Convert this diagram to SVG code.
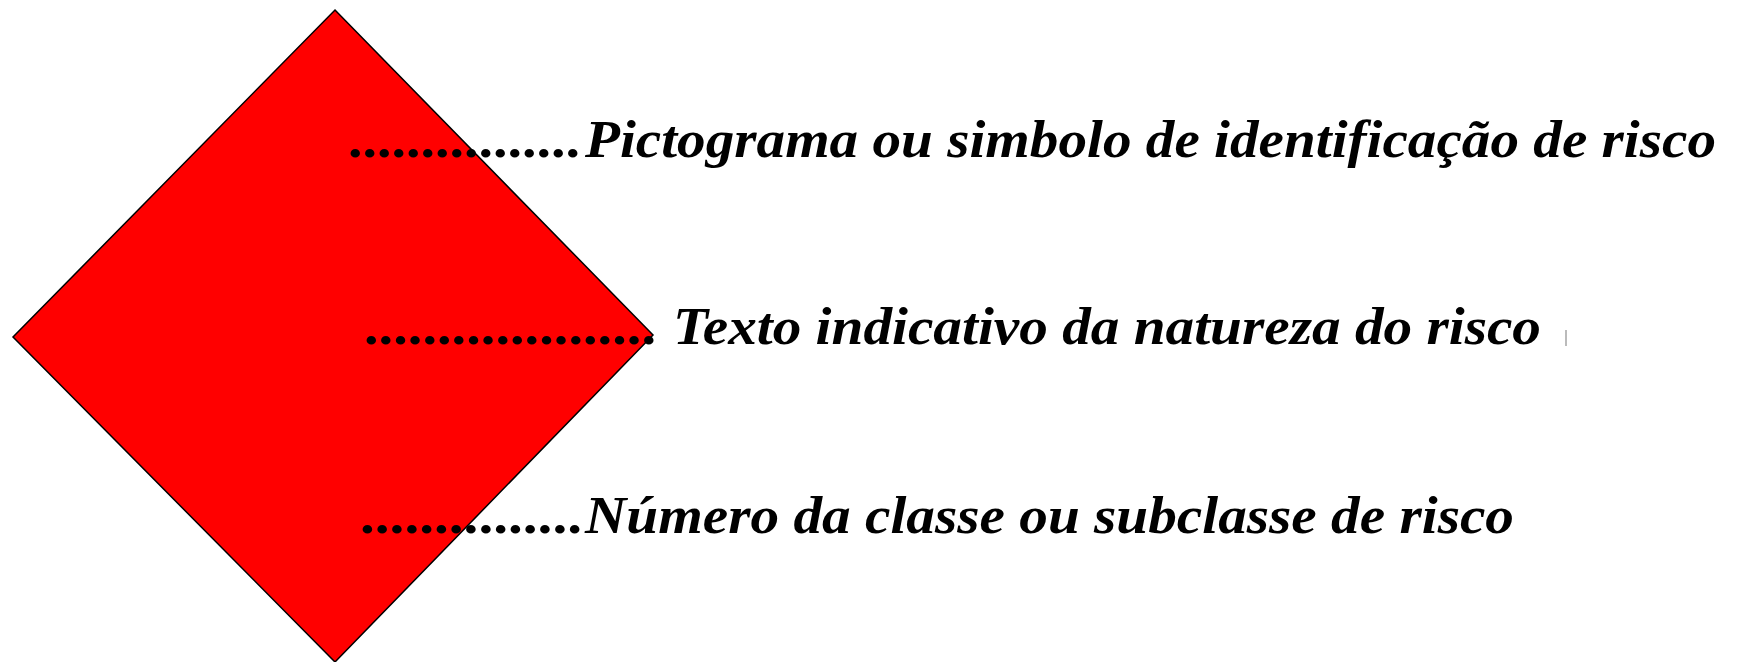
<svg xmlns="http://www.w3.org/2000/svg" width="1738" height="662" viewBox="0 0 1738 662">
  <style>
    .lbl { font-family: "Liberation Serif", "Times New Roman", serif; font-style: italic; font-weight: bold; font-size: 52px; fill: #000; }
    .dots { font-family: "Liberation Serif", "Times New Roman", serif; font-weight: bold; font-size: 52px; fill: #000; }
  </style>
  <rect x="0" y="0" width="1738" height="662" fill="#ffffff"/>
  <g id="diamond">
    <polygon points="335,10 653,335 335,662 13,337" fill="#ff0000" stroke="#000000" stroke-width="1.5"/>
  </g>
  <g id="connectors">
    <text class="dots" x="348" y="157" textLength="232" lengthAdjust="spacingAndGlyphs">................</text>
    <text class="dots" x="364" y="344" textLength="292" lengthAdjust="spacingAndGlyphs">....................</text>
    <text class="dots" x="360" y="533" textLength="222" lengthAdjust="spacingAndGlyphs">...............</text>
  </g>
  <g id="label-pictograma">
    <text class="lbl" x="585" y="157" textLength="1131" lengthAdjust="spacingAndGlyphs">Pictograma ou simbolo de identificação de risco</text>
  </g>
  <g id="label-texto">
    <text class="lbl" x="673" y="344" textLength="868" lengthAdjust="spacingAndGlyphs">Texto indicativo da natureza do risco</text>
    <line x1="1566" y1="330" x2="1566" y2="346" stroke="#bbbbbb" stroke-width="2"/>
  </g>
  <g id="label-numero">
    <text class="lbl" x="585" y="533" textLength="929" lengthAdjust="spacingAndGlyphs">Número da classe ou subclasse de risco</text>
  </g>
</svg>
